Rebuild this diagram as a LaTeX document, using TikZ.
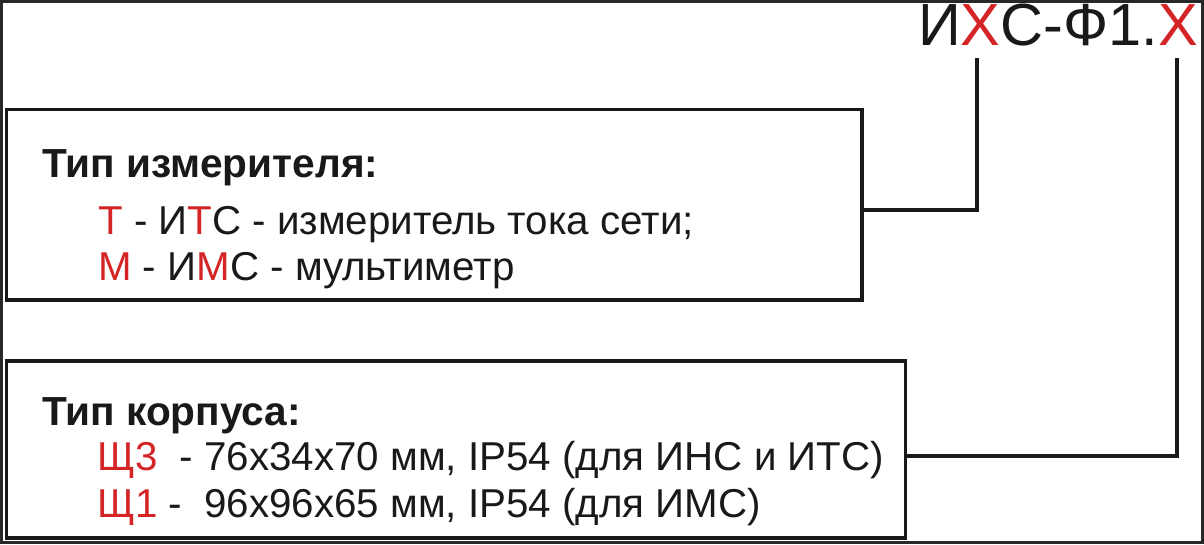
\documentclass[tikz,border=0pt]{standalone}
\usepackage{fontspec}
\setmainfont{Liberation Sans}
\definecolor{cred}{RGB}{212,36,38}
\definecolor{frame}{RGB}{40,40,40}
\definecolor{ink}{RGB}{25,25,25}
\begin{document}
\begin{tikzpicture}[x=1pt,y=-1pt,
  box/.style={draw=ink,line width=3.2pt,rectangle,inner sep=0pt},
  wire/.style={draw=ink,line width=3.2pt},
  txt/.style={anchor=base west,inner sep=0pt,text=ink,font=\fontsize{40.3}{44}\selectfont},
  head/.style={txt,font=\fontsize{40.6}{44}\selectfont\bfseries},
  ttl/.style={anchor=base west,inner sep=0pt,text=ink,font=\fontsize{59.5}{64}\selectfont}]
\useasboundingbox (0,0) rectangle (1204,544);
\fill[white] (0,0) rectangle (1204,544);
\draw[frame,line width=3pt] (1.5,1) rectangle (1202.5,542.5);
% title
\node[ttl] (title) at (918,45) {И\textcolor{cred}{Х}С-Ф1.\textcolor{cred}{Х}};
\coordinate (x1) at (977,58);
\coordinate (x2) at (1177,58);
% boxes
\node[box,minimum width=855.5pt,minimum height=190.5pt] (b1) at (434.25,204.75) {};
\node[box,minimum width=899pt,minimum height=177pt] (b2) at (456,449.5) {};
% texts box 1
\node[head] (h1) at (42,177) {Тип измерителя:};
\node[txt] (l11) at (98,234) {\textcolor{cred}{Т} - И\textcolor{cred}{Т}С - измеритель тока сети;};
\node[txt] (l12) at (98,280) {\textcolor{cred}{М} - И\textcolor{cred}{М}С - мультиметр};
% texts box 2
\node[head] (h2) at (42,425) {Тип корпуса:};
\node[txt] (l21) at (97,470) {\textcolor{cred}{Щ3}\ \ - 76x34x70 мм, IP54 (для ИНС и ИТС)};
\node[txt] (l22) at (97,517) {\textcolor{cred}{Щ1} -\ \ 96x96x65 мм, IP54 (для ИМС)};
% connectors
\coordinate (c1) at (977,210);
\coordinate (c2) at (1177,456);
\draw[wire] (b1.east |- c1) -- (c1) -- (x1);
\draw[wire] (b2.east |- c2) -- (c2) -- (x2);
\end{tikzpicture}
\end{document}
